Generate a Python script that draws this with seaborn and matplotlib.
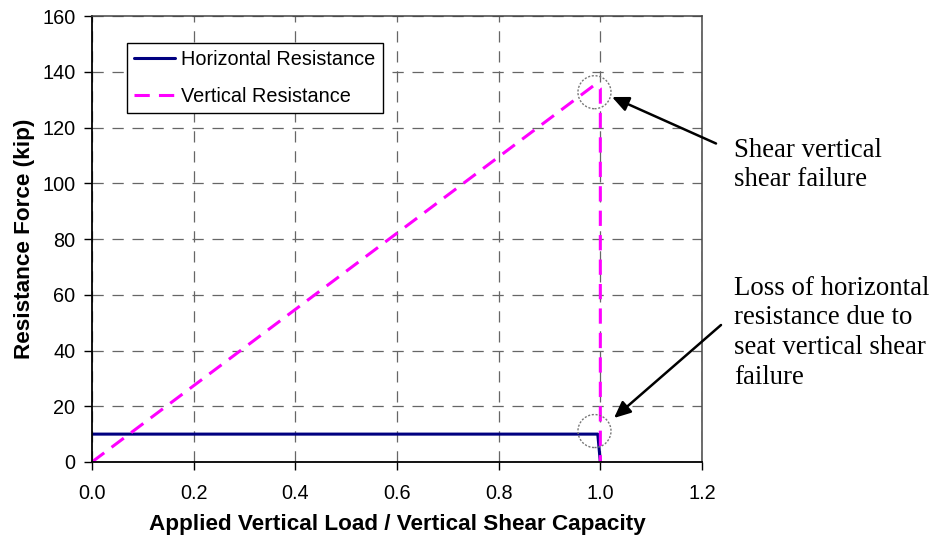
import pandas as pd
import matplotlib.pyplot as plt
import seaborn as sns
from matplotlib.patches import Ellipse

# values
horiz_x = [0.0, 0.995, 1.0]
horiz_y = [10, 10, 0]
vert_x = [0.0, 0.99, 1.0, 1.0]
vert_y = [0, 135.5, 134, 0]

x_ticks = [0.0, 0.2, 0.4, 0.6, 0.8, 1.0, 1.2]
y_ticks = [0, 20, 40, 60, 80, 100, 120, 140, 160]

# callout circles (data coords) and texts
circle_x = [0.9885, 0.9885]
circle_y = [132.7, 11.1]
note_top = ["Shear vertical", "shear failure"]
note_bottom = ["Loss of horizontal", "resistance due to", "seat vertical shear", "failure"]

sns.set_style("ticks")
plt.rcParams["font.family"] = ["Liberation Sans", "DejaVu Sans"]
plt.rcParams["text.color"] = "black"
plt.rcParams["axes.labelcolor"] = "black"

fig = plt.figure(figsize=(9.34, 5.38), dpi=100)
ax = fig.add_axes([0.0985, 0.1413, 0.6531, 0.8287])

dfh = pd.DataFrame({"x": horiz_x, "y": horiz_y})
dfv = pd.DataFrame({"x": vert_x, "y": vert_y})
sns.lineplot(data=dfh, x="x", y="y", ax=ax, color="#000080", lw=2.2,
             label="Horizontal Resistance", sort=False, estimator=None)
sns.lineplot(data=dfv, x="x", y="y", ax=ax, color="#ff00ff", lw=2.2,
             label="Vertical Resistance", sort=False, estimator=None,
             linestyle=(0, (5, 3)))

ax.set_xlim(0, 1.2)
ax.set_ylim(0, 160)
ax.set_xticks(x_ticks)
ax.set_xticklabels([f"{v:.1f}" for v in x_ticks], fontsize=14.3)
ax.set_yticks(y_ticks)
ax.set_yticklabels([str(v) for v in y_ticks], fontsize=14.3)
ax.grid(True, color="#666666", linestyle=(0, (9, 7)), lw=0.9)
ax.tick_params(axis="x", direction="out", length=6, width=1, colors="black", pad=10)
ax.tick_params(axis="y", direction="out", length=6, width=1, colors="black", pad=6)
for s in ["top", "right"]:
    ax.spines[s].set_linewidth(1.1)
    ax.spines[s].set_color("#444444")
for s in ["left", "bottom"]:
    ax.spines[s].set_linewidth(1.3)
    ax.spines[s].set_color("black")

ax.set_xlabel("Applied Vertical Load / Vertical Shear Capacity",
              fontsize=16.2, fontweight="bold", labelpad=8, color="black")
ax.set_ylabel("Resistance Force (kip)", fontsize=16.2, fontweight="bold",
              labelpad=5, color="black")

leg = ax.legend(loc="upper left", bbox_to_anchor=(0.057, 0.94), fontsize=14.3,
                frameon=True, fancybox=False, edgecolor="black", framealpha=1,
                handlelength=2.1, handletextpad=0.3, labelspacing=0.9,
                borderpad=0.35, borderaxespad=0, labelcolor="black")
leg.get_frame().set_linewidth(1.0)

for cx, cy in zip(circle_x, circle_y):
    ax.add_patch(Ellipse((cx, cy), width=0.065, height=11.84, fill=False,
                         edgecolor="#777777", lw=1.0, linestyle=(0, (1.5, 1.2)),
                         clip_on=False, zorder=5))

serif = ["Liberation Serif", "DejaVu Serif"]
for lines, y0 in [(note_top, 157), (note_bottom, 295)]:
    for i, line in enumerate(lines):
        fig.text(734 / 934, 1 - (y0 + 29.5 * i) / 538, line, color="black",
                 fontsize=19.3, family=serif, va="baseline", ha="left")

arrow = dict(arrowstyle="-|>,head_length=1.0,head_width=0.45", color="black", lw=1.8,
             shrinkA=0, shrinkB=0)
ax.annotate("", xy=(612 / 934, 1 - 97 / 538), xycoords="figure fraction",
            xytext=(716 / 934, 1 - 143.5 / 538), textcoords="figure fraction",
            arrowprops=arrow)
ax.annotate("", xy=(614 / 934, 1 - 418 / 538), xycoords="figure fraction",
            xytext=(721 / 934, 1 - 325 / 538), textcoords="figure fraction",
            arrowprops=arrow)

fig.savefig("out.png", dpi=100)
